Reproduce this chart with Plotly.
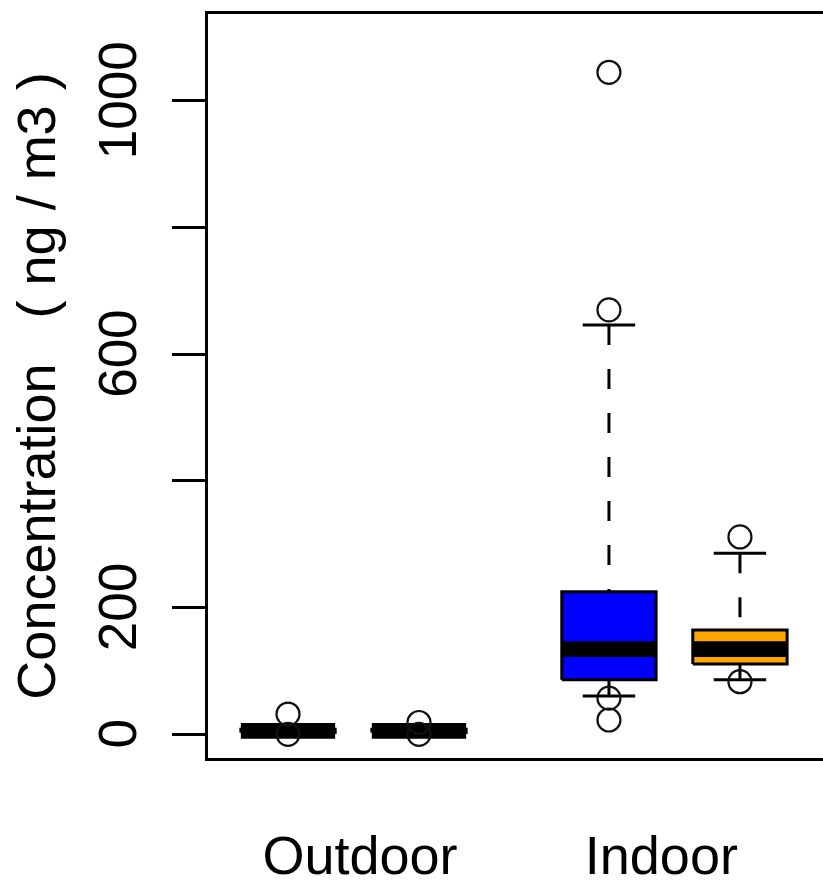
import plotly.graph_objects as go

# ---- data ----
groups = ["Outdoor", "Outdoor", "Indoor", "Indoor"]
positions = [1, 2, 3.45, 4.45]
fill_colors = ["#000000", "#000000", "#0000FF", "#FFA500"]
q1 = [3, 3, 86, 111]
median = [5.5, 5.5, 134.6, 134.6]
q3 = [8, 8, 225, 164.6]
lower_whisker = [1, 1, 60.5, 86]
upper_whisker = [12, 12, 646, 285.7]
outliers = [[32, 0], [18.6, 0], [1045, 670, 57, 22.6], [311.5, 83]]

group_labels = ["Outdoor", "Indoor"]
group_label_pos = [1.55, 3.85]

y_tickvals = [0, 200, 400, 600, 800, 1000]
y_ticktext = ["0", "200", "", "600", "", "1000"]

box_width = 0.72
cap_width = 0.40

FONT = "Liberation Sans, Arial, sans-serif"

fig = go.Figure()

for i, p in enumerate(positions):
    xl, xr = p - box_width / 2, p + box_width / 2
    # box body
    fig.add_trace(go.Scatter(
        x=[xl, xr, xr, xl, xl], y=[q1[i], q1[i], q3[i], q3[i], q1[i]],
        mode="lines", fill="toself", fillcolor=fill_colors[i],
        line=dict(color="black", width=3), hoverinfo="skip", showlegend=False))
    # whiskers (dashed) drawn from the cap toward the box
    for cap_v, box_v in ((upper_whisker[i], q3[i]), (lower_whisker[i], q1[i])):
        fig.add_trace(go.Scatter(
            x=[p, p], y=[cap_v, box_v], mode="lines",
            line=dict(color="black", width=3, dash="20px,24px"),
            hoverinfo="skip", showlegend=False))
        fig.add_trace(go.Scatter(
            x=[p - cap_width / 2, p + cap_width / 2], y=[cap_v, cap_v], mode="lines",
            line=dict(color="black", width=3), hoverinfo="skip", showlegend=False))
    # median (thick)
    fig.add_trace(go.Scatter(
        x=[xl, xr], y=[median[i], median[i]], mode="lines",
        line=dict(color="black", width=15.7), hoverinfo="skip", showlegend=False))
    # outliers
    fig.add_trace(go.Scatter(
        x=[p] * len(outliers[i]), y=outliers[i], mode="markers",
        marker=dict(symbol="circle-open", size=23, color="#111111",
                    line=dict(width=2.2, color="#111111")),
        hoverinfo="skip", showlegend=False))

# trailing no-break space re-centres the rotated labels on their ticks
y_ticktext_shown = [t + "\u00a0" if t else t for t in y_ticktext]

fig.update_layout(
    width=823, height=883,
    margin=dict(l=208, r=0, t=14, b=125, pad=0),
    paper_bgcolor="white", plot_bgcolor="white",
    font=dict(family=FONT, color="black", size=54),
    xaxis=dict(
        range=[0.3893, 5.084], showgrid=False, zeroline=False, automargin=False,
        showline=True, linecolor="black", linewidth=3, mirror=True,
        tickvals=group_label_pos, ticktext=group_labels, ticks="",
        tickfont=dict(family=FONT, size=54, color="black"),
        ticklabelstandoff=48,
    ),
    yaxis=dict(
        range=[-37.4, 1137.0], showgrid=False, zeroline=False, automargin=False,
        showline=True, linecolor="black", linewidth=3, mirror=False,
        tickvals=y_tickvals, ticktext=y_ticktext_shown,
        ticks="outside", ticklen=33, tickwidth=3, tickcolor="black",
        tickangle=-90, ticklabelstandoff=15,
        tickfont=dict(family=FONT, size=53, color="black"),
        title=dict(text="Concentration\u00a0\u00a0\u00a0( ng / m3 )",
                   font=dict(family=FONT, size=54, color="black"), standoff=15),
    ),
)

fig.write_html("out.html")
